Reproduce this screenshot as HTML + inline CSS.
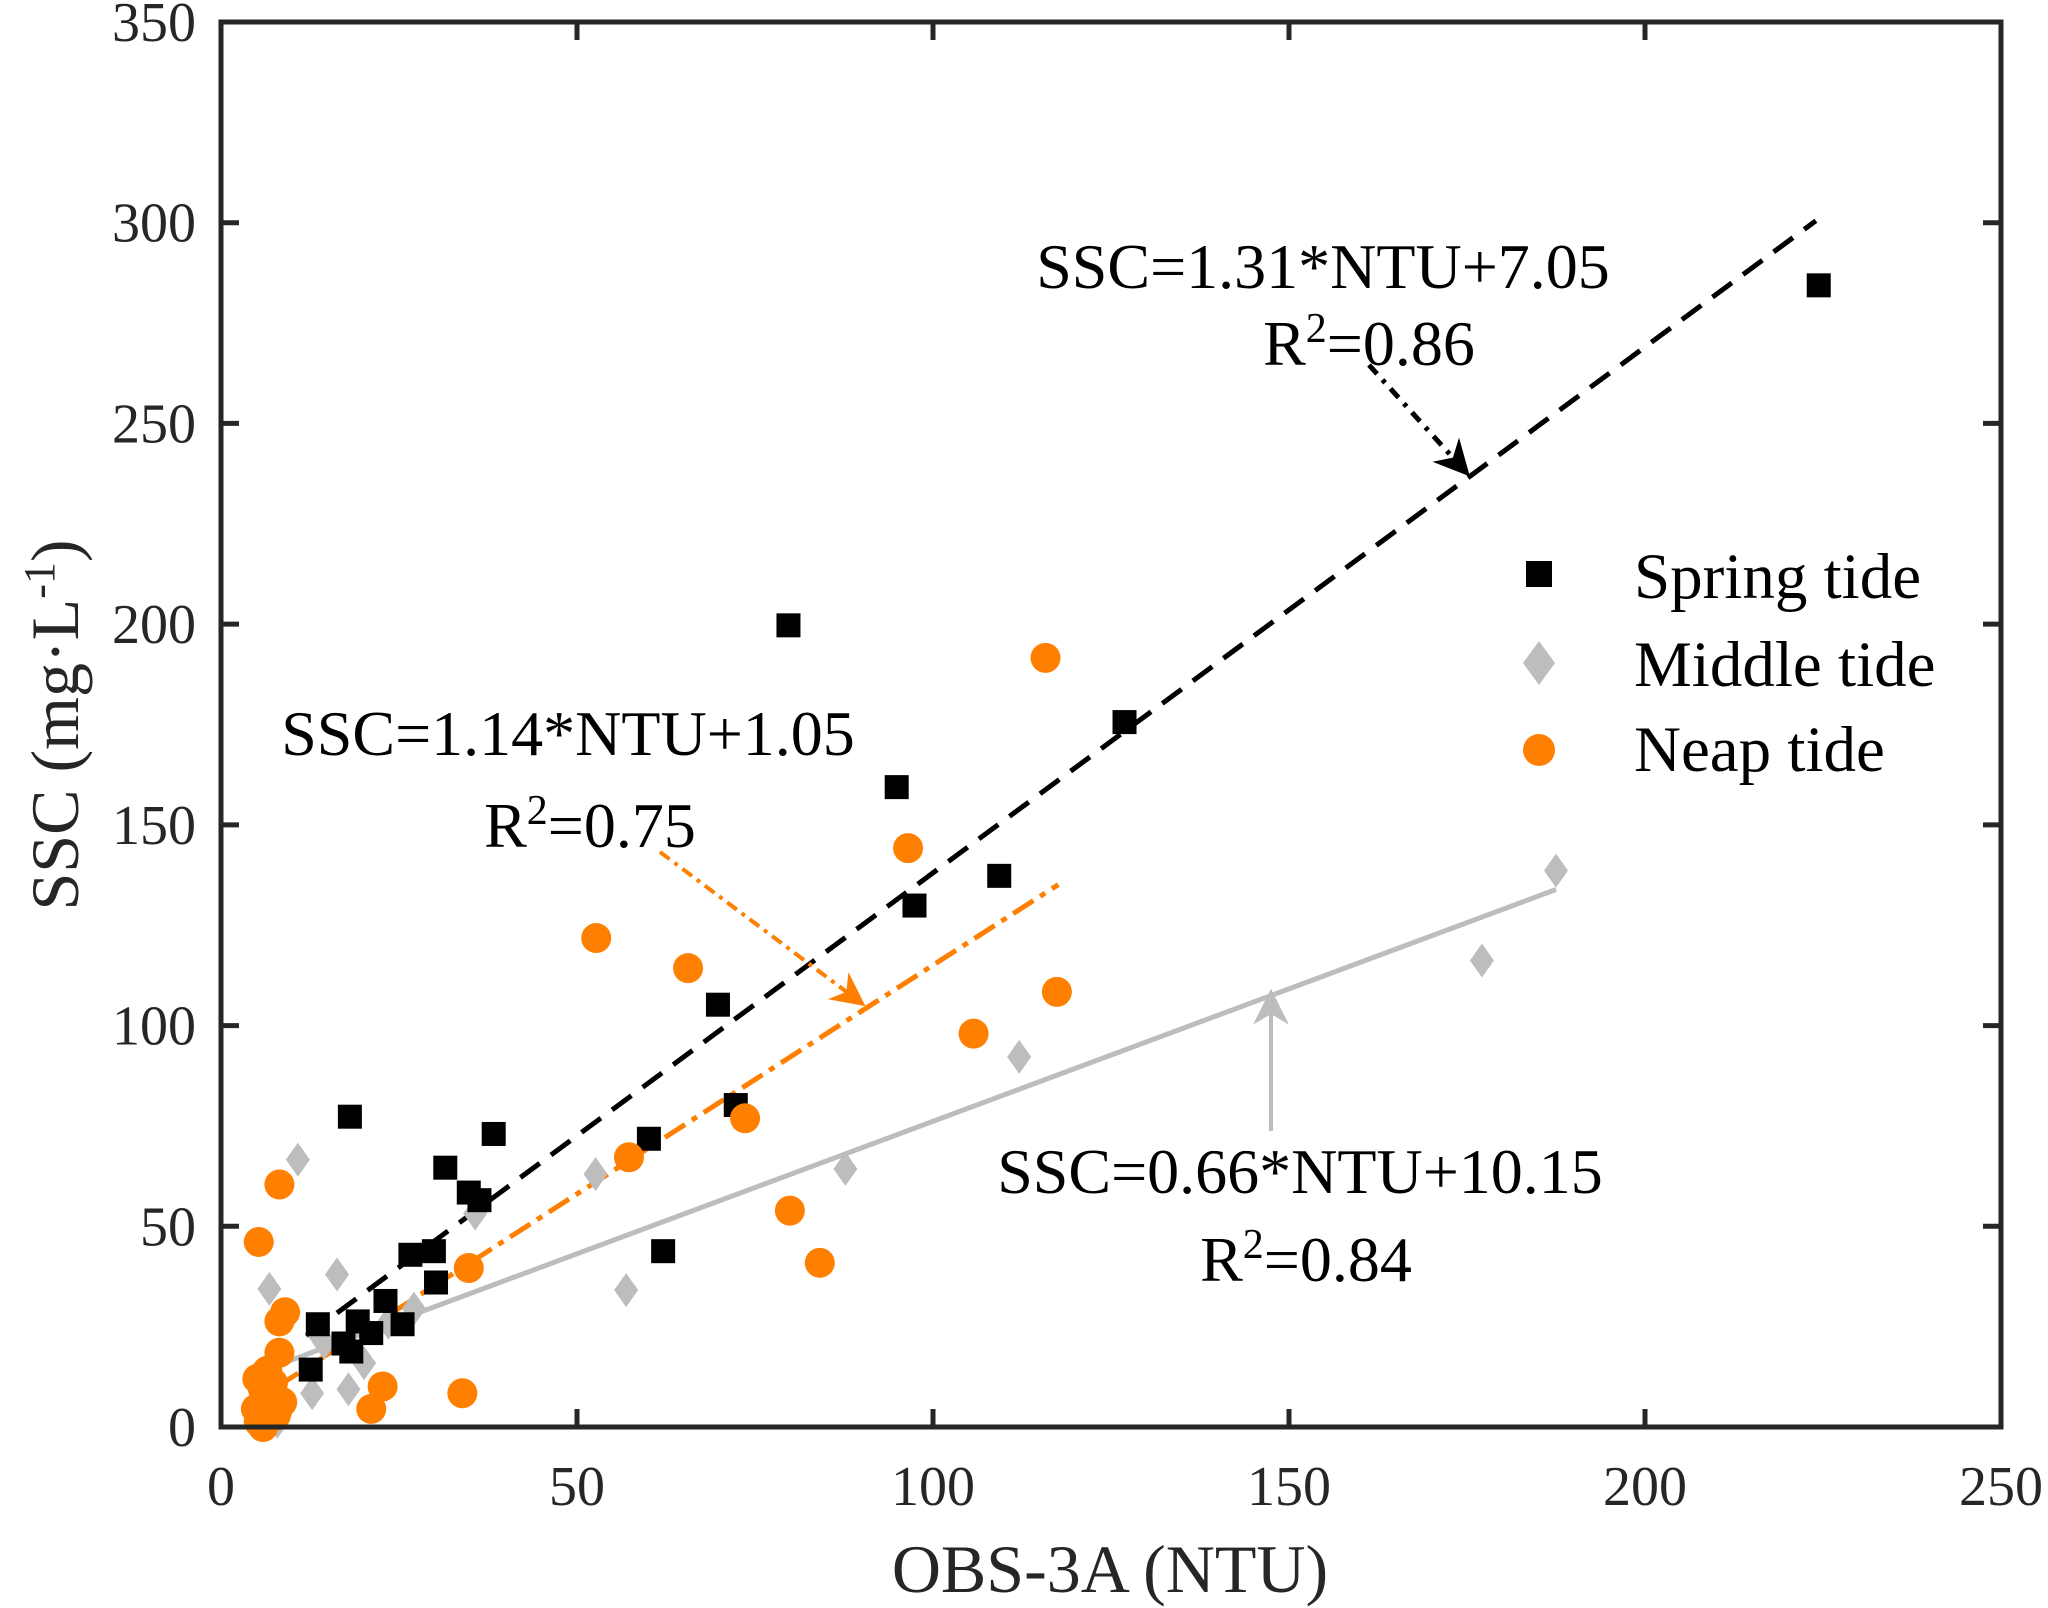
<!DOCTYPE html>
<html><head><meta charset="utf-8"><style>
html,body{margin:0;padding:0;background:#fff}
svg{display:block;font-family:"Liberation Serif",serif}
</style></head><body>
<svg id="chart" width="2048" height="1608" viewBox="0 0 2048 1608" xmlns="http://www.w3.org/2000/svg">
<g id="marks"></g>
<g id="axes"></g>
</svg>
<script>
const xTicks=[0,50,100,150,200,250];
const yTicks=[0,50,100,150,200,250,300,350];
const springX=[224.4,79.7,126.9,94.9,109.3,97.4,69.8,72.3,60.1,18.1,38.3,31.5,34.8,36.3,62.1,26.6,29.9,30.2,23.1,25.5,19.2,21.1,13.6,17.2,18.3,12.6];
const springY=[284.4,199.7,175.6,159.4,137.3,129.9,105.2,80.2,71.8,77.3,73,64.6,58.4,56.5,43.8,42.9,43.8,36,31.4,25.6,26.3,23.4,25.6,20.8,18.8,14.3];
const middleX=[187.5,177.1,112.1,87.7,52.6,56.9,35.7,10.8,16.3,6.8,13.6,20.1,17.9,12.8,27.1,7.9,23.5,14.5];
const middleY=[138.6,116.2,92.2,64.3,63,34.1,53.2,66.6,38,34.4,23.4,15.9,9.4,8.4,29.5,1.3,26,21];
const neapX=[115.8,96.5,52.7,65.6,117.4,105.7,73.6,57.3,79.9,84.1,34.8,8.2,5.3,9,8.2,8.2,22.7,33.9,21.1,5.1,5.9,6.8,4.9,5.3,7.7,7.3,8.6,5.9,6.5,7.9];
const neapY=[191.6,144.2,121.8,114.3,108.4,98,76.9,67.2,53.9,40.9,39.6,60.4,46.1,28.6,26.3,18.5,10.1,8.4,4.5,12,9.4,7.1,4.5,1.3,2.9,11,6.2,0,14,4];
const fitSlopes=[1.31,1.14,0.66];
const fitIntercepts=[7.05,1.05,10.15];
const fitRanges=[[12,224],[8,117.6],[8,187.5]];

const NS="http://www.w3.org/2000/svg";
const L=221,R=2001,T=22,B=1427;
const sx=v=>L+(v-0)/(250-0)*(R-L);
const sy=v=>B-(v-0)/(350-0)*(B-T);
const marks=document.getElementById('marks');
const axes=document.getElementById('axes');
function mk(tag,attrs,parent){const e=document.createElementNS(NS,tag);for(const k in attrs)e.setAttribute(k,attrs[k]);parent.appendChild(e);return e;}

const fitStyles=[{stroke:'#000',dash:'24 14'},{stroke:'#ff7f00',dash:'24 8 6 8'},{stroke:'#bdbdbd',dash:''}];
const fitNames=['spring-fit-line','neap-fit-line','middle-fit-line'];
for(let i=0;i<3;i++){
  const [a,b]=fitRanges[i];
  const ln=mk('line',{x1:sx(a),y1:sy(fitSlopes[i]*a+fitIntercepts[i]),x2:sx(b),y2:sy(fitSlopes[i]*b+fitIntercepts[i]),stroke:fitStyles[i].stroke,'stroke-width':5,'stroke-dasharray':fitStyles[i].dash},marks);
  
  
}
for(let i=0;i<middleX.length;i++){
  const cx=sx(middleX[i]),cy=sy(middleY[i]);
  const p=mk('polygon',{points:`${cx},${cy-17} ${cx+12},${cy} ${cx},${cy+17} ${cx-12},${cy}`,fill:'#bdbdbd'},marks);
  
  
}
for(let i=0;i<springX.length;i++){
  const cx=sx(springX[i]),cy=sy(springY[i]);
  const r=mk('rect',{x:cx-12,y:cy-12,width:24,height:24,fill:'#000'},marks);
  
  
}
for(let i=0;i<neapX.length;i++){
  const c=mk('circle',{cx:sx(neapX[i]),cy:sy(neapY[i]),r:15,fill:'#ff7f00'},marks);
  
  
}
const fr=mk('rect',{x:L,y:T,width:R-L,height:B-T,fill:'none',stroke:'#262626','stroke-width':5},axes);


for(const t of xTicks){
  const x=sx(t);
  mk('line',{x1:x,y1:B,x2:x,y2:B-18,stroke:'#262626','stroke-width':5},axes);
  mk('line',{x1:x,y1:T,x2:x,y2:T+18,stroke:'#262626','stroke-width':5},axes);
  const tx=mk('text',{x:x,y:1505,'font-size':56,'text-anchor':'middle',fill:'#262626'},axes);
  tx.textContent=t;
  
  
}
for(const t of yTicks){
  const y=sy(t);
  mk('line',{x1:L,y1:y,x2:L+18,y2:y,stroke:'#262626','stroke-width':5},axes);
  mk('line',{x1:R,y1:y,x2:R-18,y2:y,stroke:'#262626','stroke-width':5},axes);
  const tx=mk('text',{x:196,y:y+19,'font-size':56,'text-anchor':'end',fill:'#262626'},axes);
  tx.textContent=t;
  
  
}
</script>
<svg width="2048" height="1608" style="position:absolute;left:0;top:0" font-family="Liberation Serif, serif">
<defs>
<marker id="ab2" markerWidth="36" markerHeight="36" refX="8" refY="5" orient="auto" markerUnits="userSpaceOnUse" viewBox="0 0 10 10"><path d="M0,0 L10,5 L0,10 L3,5 Z" fill="#000"/></marker>
<marker id="ao" markerWidth="34" markerHeight="34" refX="8" refY="5" orient="auto" markerUnits="userSpaceOnUse" viewBox="0 0 10 10"><path d="M0,0 L10,5 L0,10 L3,5 Z" fill="#ff7f00"/></marker>
<marker id="ag" markerWidth="36" markerHeight="36" refX="8" refY="5" orient="auto" markerUnits="userSpaceOnUse" viewBox="0 0 10 10"><path d="M0,0 L10,5 L0,10 L3,5 Z" fill="#bdbdbd"/></marker>
</defs>
<text x="1110" y="1592" font-size="68" text-anchor="middle" fill="#262626">OBS-3A (NTU)</text>
<text transform="translate(78,725) rotate(-90)" font-size="68" text-anchor="middle" fill="#262626">SSC (mg·L<tspan baseline-shift="super" font-size="44">-1</tspan>)</text>
<text x="1323" y="288" font-size="64" text-anchor="middle">SSC=1.31*NTU+7.05</text>
<text x="1369" y="365" font-size="64" text-anchor="middle">R<tspan baseline-shift="super" font-size="42">2</tspan>=0.86</text>
<line x1="1369" y1="365" x2="1465" y2="471" stroke="#000" stroke-width="5" stroke-dasharray="12 8 4 8" marker-end="url(#ab2)"/>
<text x="568" y="755" font-size="64" text-anchor="middle">SSC=1.14*NTU+1.05</text>
<text x="590" y="847" font-size="64" text-anchor="middle">R<tspan baseline-shift="super" font-size="42">2</tspan>=0.75</text>
<line x1="660" y1="852" x2="860" y2="1002" stroke="#ff7f00" stroke-width="4" stroke-dasharray="12 6 4 6" marker-end="url(#ao)"/>
<text x="1300" y="1193" font-size="64" text-anchor="middle">SSC=0.66*NTU+10.15</text>
<text x="1306" y="1281" font-size="64" text-anchor="middle">R<tspan baseline-shift="super" font-size="42">2</tspan>=0.84</text>
<line x1="1271" y1="1131" x2="1271" y2="996" stroke="#bdbdbd" stroke-width="4" marker-end="url(#ag)"/>
<g>
<rect x="1526" y="561" width="26" height="26" fill="#000"/>
<text x="1634" y="598" font-size="65">Spring tide</text>
<polygon points="1539,641 1555,663 1539,685 1523,663" fill="#bdbdbd"/>
<text x="1634" y="686" font-size="65">Middle tide</text>
<circle cx="1539" cy="750" r="16" fill="#ff7f00"/>
<text x="1634" y="771" font-size="65">Neap tide</text>
</g>
</svg>
</body></html>
